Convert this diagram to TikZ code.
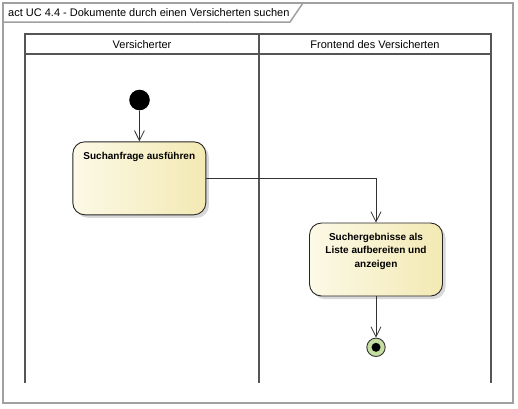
\documentclass[tikz,border=0pt]{standalone}
\usepackage{fontspec}
\setmainfont{Liberation Sans}
\usetikzlibrary{arrows.meta,shadows}
\definecolor{framegray}{RGB}{160,160,160}
\definecolor{lanegray}{RGB}{85,85,85}
\definecolor{actL}{RGB}{252,249,230}
\definecolor{actR}{RGB}{243,233,180}
\definecolor{finalgreen}{RGB}{197,222,160}
\definecolor{edgegray}{RGB}{50,50,50}
\begin{document}
\begin{tikzpicture}[x=1pt,y=-1pt,
  frameline/.style={draw=framegray,line width=1.5pt},
  laneline/.style={draw=lanegray,line width=1.5pt},
  action/.style={draw=black!85,line width=0.9pt,rounded corners=12pt,minimum width=133pt,minimum height=73pt,inner sep=0pt,left color=actL,right color=actR,drop shadow={shadow xshift=3pt,shadow yshift=-3pt,fill=black!25,opacity=0.6},font=\fontsize{10}{13.5}\selectfont\bfseries},
  initnode/.style={circle,fill=black,minimum size=20.6pt,inner sep=0pt},
  finalnode/.style={circle,draw=black!80,line width=0.9pt,fill=finalgreen,minimum size=18.4pt,inner sep=0pt,path picture={\fill[black] (path picture bounding box.center) circle (4.5pt);}},
  flow/.style={draw=edgegray,line width=0.8pt,-{Straight Barb[length=10pt,width=10pt]}},
  lbl/.style={font=\fontsize{11}{13}\selectfont,inner sep=0pt}
]
\useasboundingbox (0,0) rectangle (518,408);
\fill[white] (0,0) rectangle (518,408);
% frame
\draw[frameline] (3,3) rectangle (513,403);
\draw[frameline] (3,22) -- (290,22) -- (303,3);
\node[lbl,anchor=base west] (title) at (8,16) {act UC 4.4 - Dokumente durch einen Versicherten suchen};
% swimlanes
\draw[laneline] (25,34) rectangle (491,54);
\draw[laneline] (25,54) -- (25,383);
\draw[laneline] (259,34) -- (259,383);
\draw[laneline] (491,54) -- (491,383);
\node[lbl,anchor=base] (lane1) at (142,48) {Versicherter};
\node[lbl,anchor=base] (lane2) at (375,48) {Frontend des Versicherten};
% nodes
\node[initnode] (init) at (139.5,100) {};
\node[action] (a1) at (139.3,178.3) {\parbox[c][73pt][t]{128pt}{\vspace*{10.5pt}\centering Suchanfrage ausführen\par}};
\node[action] (a2) at (376,259.5) {\parbox[c][73pt][t]{128pt}{\vspace*{10pt}\centering Suchergebnisse als\\ Liste aufbereiten und\\ anzeigen\par}};
\node[finalnode] (final) at (376,347.3) {};
% flows
\draw[flow] (init) -- (a1);
\draw[flow] (a1.east) -| (a2.north);
\draw[flow] (a2) -- (final);
\end{tikzpicture}
\end{document}
